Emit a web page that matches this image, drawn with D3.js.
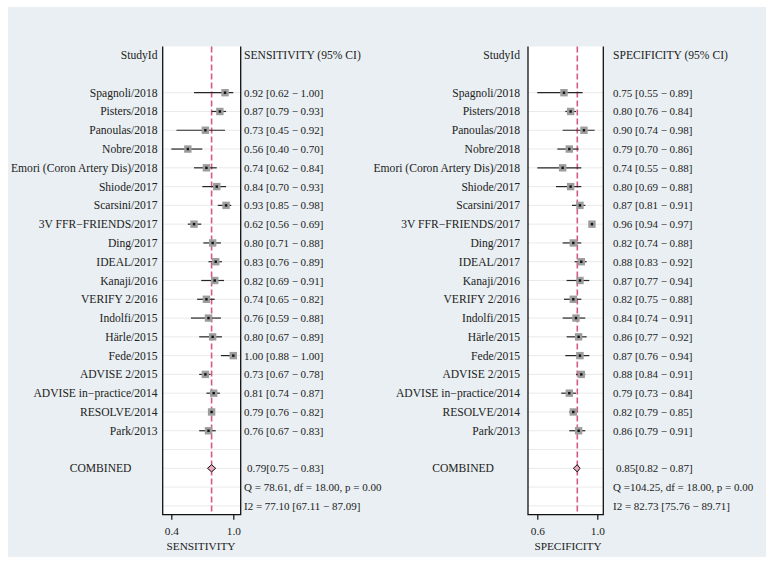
<!DOCTYPE html>
<html><head><meta charset="utf-8">
<script src="https://cdn.jsdelivr.net/npm/d3@7"></script>
<style>body{margin:0;background:#fff}svg{display:block}text{font-family:"Liberation Serif","DejaVu Serif",serif;fill:#222}</style>
</head><body><svg id="c" width="773" height="566"></svg>
<script>
const studies = ["Spagnoli/2018","Pisters/2018","Panoulas/2018","Nobre/2018","Emori (Coron Artery Dis)/2018","Shiode/2017","Scarsini/2017","3V FFR\u2212FRIENDS/2017","Ding/2017","IDEAL/2017","Kanaji/2016","VERIFY 2/2016","Indolfi/2015","Härle/2015","Fede/2015","ADVISE 2/2015","ADVISE in\u2212practice/2014","RESOLVE/2014","Park/2013"];
const sens   = [0.92,0.87,0.73,0.56,0.74,0.84,0.93,0.62,0.80,0.83,0.82,0.74,0.76,0.80,1.00,0.73,0.81,0.79,0.76];
const sensLo = [0.62,0.79,0.45,0.40,0.62,0.70,0.85,0.56,0.71,0.76,0.69,0.65,0.59,0.67,0.88,0.67,0.74,0.76,0.67];
const sensHi = [1.00,0.93,0.92,0.70,0.84,0.93,0.98,0.69,0.88,0.89,0.91,0.82,0.88,0.89,1.00,0.78,0.87,0.82,0.83];
const spec   = [0.75,0.80,0.90,0.79,0.74,0.80,0.87,0.96,0.82,0.88,0.87,0.82,0.84,0.86,0.87,0.88,0.79,0.82,0.86];
const specLo = [0.55,0.76,0.74,0.70,0.55,0.69,0.81,0.94,0.74,0.83,0.77,0.75,0.74,0.77,0.76,0.84,0.73,0.79,0.79];
const specHi = [0.89,0.84,0.98,0.86,0.88,0.88,0.91,0.97,0.88,0.92,0.94,0.88,0.91,0.92,0.94,0.91,0.84,0.85,0.91];
const sensPooled = [0.79,0.75,0.83];
const specPooled = [0.85,0.82,0.87];
const sensStats = ["Q = 78.61, df = 18.00, p = 0.00","I2 = 77.10 [67.11 \u2212 87.09]"];
const specStats = ["Q =104.25, df = 18.00, p = 0.00","I2 = 82.73 [75.76 \u2212 89.71]"];
const sensTicks = [0.4,1.0], sensTickLabels = ["0.4","1.0"];
const specTicks = [0.55,1.0], specTickLabels = ["0.6","1.0"];

const svg = d3.select("#c");
svg.append("rect").attr("x",8).attr("y",7).attr("width",758).attr("height",550).attr("fill","#e9eff2");

const fmt = d3.format(".2f");
const rowY = i => 92.7 + i*18.78;
const plotTop = 46.5, plotBottom = 514.7;
const LFS = 11.6, VFS = 11;

function panel(o){
  const x = d3.scaleLinear().domain([o.ticks[0],o.ticks[1]]).range(o.tickPx);
  const g = svg.append("g");
  g.append("rect").attr("x",o.left).attr("y",plotTop).attr("width",o.right-o.left).attr("height",plotBottom-plotTop).attr("fill","#fff");
  g.selectAll("line.grid").data(d3.range(0,23)).join("line").attr("class","grid")
    .attr("x1",o.left).attr("x2",o.right).attr("y1",d=>rowY(d)).attr("y2",d=>rowY(d))
    .attr("stroke","#eaeaea").attr("stroke-width",1);
  g.append("line").attr("x1",x(o.pooled[0])).attr("x2",x(o.pooled[0])).attr("y1",plotTop).attr("y2",plotBottom)
    .attr("stroke","#d65a85").attr("stroke-width",1.6).attr("stroke-dasharray","6,3");
  g.selectAll("line.ci").data(o.est).join("line").attr("class","ci")
    .attr("x1",(d,i)=>x(o.lo[i])).attr("x2",(d,i)=>x(o.hi[i])).attr("y1",(d,i)=>rowY(i)).attr("y2",(d,i)=>rowY(i))
    .attr("stroke","#262626").attr("stroke-width",1.2);
  g.selectAll("rect.box").data(o.est).join("rect").attr("class","box")
    .attr("x",d=>x(d)-3.7).attr("y",(d,i)=>rowY(i)-3.7).attr("width",7.4).attr("height",7.4).attr("fill","#9d9d9d");
  g.selectAll("rect.dot").data(o.est).join("rect").attr("class","dot")
    .attr("x",d=>x(d)-1.2).attr("y",(d,i)=>rowY(i)-1.2).attr("width",2.4).attr("height",2.4).attr("fill","#111");
  const cy = rowY(20);
  g.append("path").attr("d",`M${x(o.pooled[1])},${cy}L${x(o.pooled[0])},${cy-3.6}L${x(o.pooled[2])},${cy}L${x(o.pooled[0])},${cy+3.6}Z`)
    .attr("fill","#eaa7bd").attr("stroke","#111").attr("stroke-width",1);
  g.append("path").attr("d",`M${o.left},${plotTop}V${plotBottom}H${o.right}V${plotTop}`).attr("fill","none").attr("stroke","#111").attr("stroke-width",1.3);
  const ax = g.append("g").attr("transform",`translate(0,${plotBottom})`)
    .call(d3.axisBottom(x).tickValues(o.ticks).tickFormat((d,i)=>o.tickLabels[i]).tickSize(5).tickSizeOuter(0));
  ax.select(".domain").remove();
  ax.selectAll("line").attr("stroke","#111").attr("stroke-width",1.2);
  ax.selectAll("text").attr("font-size",11.3).attr("dy","1.05em").style("font-family",'"Liberation Serif",serif').attr("fill","#222");
  g.append("text").attr("x",o.titleX).attr("y",550).attr("text-anchor","middle").attr("font-size",11.3).text(o.title);
  g.append("text").attr("x",o.labelX).attr("y",rowY(-2)+4).attr("text-anchor","end").attr("font-size",LFS).text("StudyId");
  g.append("text").attr("x",o.valX).attr("y",rowY(-2)+4).attr("font-size",LFS).text(o.title+" (95% CI)");
  g.selectAll("text.st").data(studies).join("text").attr("class","st").attr("x",o.labelX).attr("y",(d,i)=>rowY(i)+4)
    .attr("text-anchor","end").attr("font-size",LFS).text(d=>d);
  g.selectAll("text.val").data(o.est).join("text").attr("class","val").attr("x",o.valX).attr("y",(d,i)=>rowY(i)+4)
    .attr("font-size",VFS).text((d,i)=>`${fmt(d)} [${fmt(o.lo[i])} \u2212 ${fmt(o.hi[i])}]`);
  g.append("text").attr("x",o.labelX-26).attr("y",rowY(20)+4).attr("text-anchor","end").attr("font-size",LFS).text("COMBINED");
  g.append("text").attr("x",o.valX+3).attr("y",rowY(20)+4).attr("font-size",VFS)
    .text(`${fmt(o.pooled[0])}[${fmt(o.pooled[1])} \u2212 ${fmt(o.pooled[2])}]`);
  g.selectAll("text.stat").data(o.stats).join("text").attr("class","stat").attr("x",o.valX).attr("y",(d,i)=>rowY(21+i)+4)
    .attr("font-size",VFS).text(d=>d);
}

panel({left:162.7,right:240.7,ticks:sensTicks,tickLabels:sensTickLabels,tickPx:[171.3,233.3],
  est:sens,lo:sensLo,hi:sensHi,pooled:sensPooled,stats:sensStats,title:"SENSITIVITY",titleX:201,labelX:157.5,valX:244});
panel({left:528,right:603.3,ticks:specTicks,tickLabels:specTickLabels,tickPx:[537.3,597.3],
  est:spec,lo:specLo,hi:specHi,pooled:specPooled,stats:specStats,title:"SPECIFICITY",titleX:568,labelX:520,valX:613});
</script></body></html>
